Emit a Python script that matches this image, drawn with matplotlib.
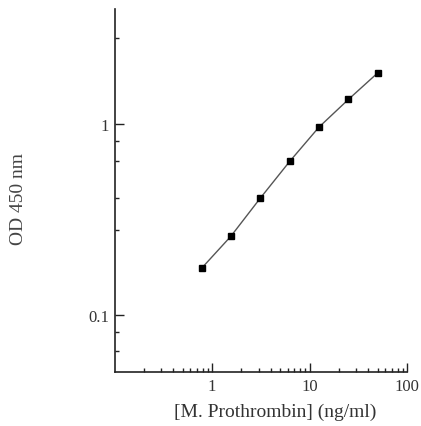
import matplotlib
matplotlib.use("Agg")
import matplotlib.pyplot as plt
from matplotlib.ticker import FixedLocator, NullFormatter, FixedFormatter

conc = [0.78, 1.56, 3.125, 6.25, 12.5, 25, 50]
od = [0.176, 0.259, 0.410, 0.638, 0.965, 1.346, 1.854]

x_major = [1, 10, 100]
x_major_labels = ["1", "10", "100"]
x_minor = [0.2, 0.3, 0.4, 0.5, 0.6, 0.7, 0.8, 0.9,
           2, 3, 4, 5, 6, 7, 8, 9,
           20, 30, 40, 50, 60, 70, 80, 90]
y_major = [0.1, 1]
y_major_labels = ["0.1", "1"]
y_minor = [0.065, 0.082, 0.28, 0.41, 0.645, 0.815, 2.82]

plt.rcParams['font.family'] = ['Liberation Serif', 'DejaVu Serif']

fig = plt.figure(figsize=(4.21, 4.27), dpi=100)
ax = fig.add_axes([0.272, 0.1265, 0.695, 0.85])

ax.plot(conc, od, color='#555555', lw=1.0, marker='s', markersize=4.5,
        markerfacecolor='black', markeredgecolor='black')

ax.set_xscale('log')
ax.set_yscale('log')
ax.set_xlim(0.1, 100)
ax.set_ylim(0.0505, 4.0)

ax.xaxis.set_major_locator(FixedLocator(x_major))
ax.xaxis.set_major_formatter(FixedFormatter(x_major_labels))
ax.xaxis.set_minor_locator(FixedLocator(x_minor))
ax.xaxis.set_minor_formatter(NullFormatter())
ax.yaxis.set_major_locator(FixedLocator(y_major))
ax.yaxis.set_major_formatter(FixedFormatter(y_major_labels))
ax.yaxis.set_minor_locator(FixedLocator(y_minor))
ax.yaxis.set_minor_formatter(NullFormatter())

for s in ['top', 'right']:
    ax.spines[s].set_visible(False)
for s in ['left', 'bottom']:
    ax.spines[s].set_linewidth(1.2)
    ax.spines[s].set_color('#222222')

ax.tick_params(which='major', direction='in', length=6.5, width=1.0,
               color='#222222', labelsize=12, labelcolor='#333333', pad=4)
ax.tick_params(which='minor', direction='in', length=3, width=1.0, color='#222222')

ax.set_xlabel('[M. Prothrombin] (ng/ml)', fontsize=14, color='#333333')
ax.set_ylabel('OD 450 nm', fontsize=14, color='#444444')
ax.xaxis.set_label_coords(0.55, -0.085)
ax.yaxis.set_label_coords(-0.30, 0.48)

fig.savefig('out.png', dpi=100)
